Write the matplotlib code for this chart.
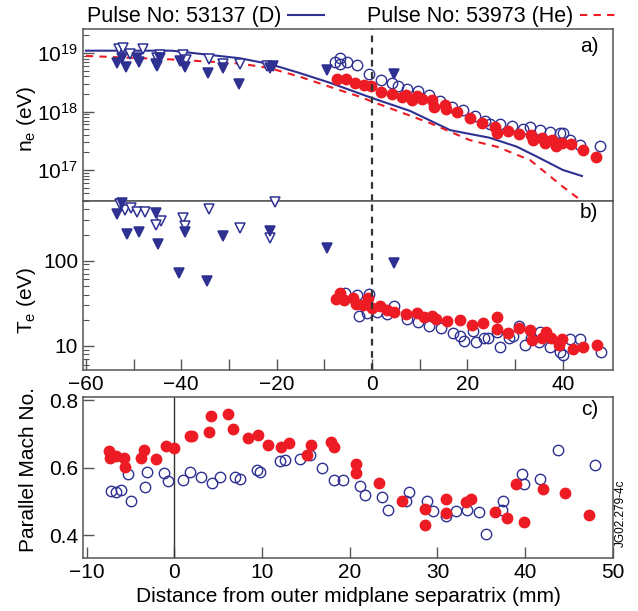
import matplotlib.pyplot as plt
from matplotlib.lines import Line2D

plt.rcParams['font.family'] = ['Liberation Sans', 'DejaVu Sans']
plt.rcParams['font.size'] = 15
plt.rcParams['mathtext.fontset'] = 'custom'
plt.rcParams['mathtext.rm'] = 'Liberation Sans'
plt.rcParams['mathtext.it'] = 'Liberation Sans:italic'

BLUE = '#2E3192'
RED = '#ED1C24'

# ---- panel a: density (m^-3) ----
ne_fit_d_x = [-60, -42, -27.7, -21.4, -15, -8.8, 0, 8, 16.4, 24.7, 30.3, 34.5, 40, 44]
ne_fit_d = [10.96e18, 10.96e18, 8.13e18, 6.46e18, 4.5e18, 3.09e18, 1.70e18, 1.02e18,
            0.479e18, 0.355e18, 0.251e18, 0.170e18, 0.100e18, 0.079e18]
ne_fit_he_x = [-60, -42, -27.7, -21.4, -15, -8.8, -2.5, 0, 12.2, 20.5, 26.1, 33.1, 36.6, 40.1, 43.6, 45.5]
ne_fit_he = [8.91e18, 7.76e18, 6.61e18, 5.50e18, 3.9e18, 2.63e18, 1.78e18, 1.48e18, 0.631e18,
             0.324e18, 0.251e18, 0.148e18, 0.087e18, 0.051e18, 0.031e18, 0.020e18]

ne_lp_open_x = [-53.0, -52.3, -50.7, -48.1, -44.4, -45.1, -39.7, -39.0, -34.1, -31.3, -27.7, -22.1]
ne_lp_open = [11.7e18, 12.3e18, 9.5e18, 11.5e18, 9.3e18, 8.1e18, 9.3e18, 7.6e18, 7.8e18,
              6.5e18, 6.6e18, 5.9e18]
ne_lp_fill_x = [-53.5, -51.6, -52.5, -49.3, -48.8, -45.3, -45.1, -44.4, -40.3, -39.2, -34.5,
                -31.2, -27.8, -21.4, -20.8, -9.5, 4.5]
ne_lp_fill = [6.8e18, 5.8e18, 8.1e18, 8.1e18, 7.1e18, 6.5e18, 5.9e18, 8.1e18, 7.2e18, 5.8e18,
              4.5e18, 5.5e18, 2.9e18, 5.6e18, 6.0e18, 5.1e18, 4.4e18]

ne_d_x = [-7.8, -6.7, -6.7, -5.3, -3.2, -0.6, 1.8, 4.1, 5.5, 7.4, 9.7, 12.0, 14.3, 16.7, 19.1,
          21.6, 23.7, 24.7, 26.8, 29.3, 31.7, 33.1, 35.2, 37.3, 39.4, 40.1, 41.5, 43.6, 47.8]
ne_d = [7.08, 8.13, 6.6, 7.08, 6.17, 4.37, 3.47, 3.02, 2.75, 2.40, 2.24, 1.91, 1.51, 1.20, 1.07,
        0.83, 0.68, 0.62, 0.62, 0.56, 0.51, 0.55, 0.48, 0.44, 0.43, 0.43, 0.32, 0.27, 0.26]
ne_he_x = [-7.3, -5.5, -3.6, -1.8, -0.3, 1.8, 4.1, 6.2, 7.1, 8.3, 9.4, 10.4, 12.5, 13.0, 15.3,
           15.5, 17.8, 20.5, 23.0, 25.8, 26.1, 28.4, 30.9, 33.3, 33.8, 35.6, 36.3, 37.7, 38.6,
           39.8, 41.7, 44.3, 47.0]
ne_he = [3.55, 3.55, 3.02, 2.82, 2.75, 2.19, 2.00, 1.78, 1.91, 1.58, 1.86, 1.62, 1.58, 1.20, 1.29,
         1.10, 1.00, 0.76, 0.63, 0.54, 0.43, 0.46, 0.41, 0.40, 0.32, 0.35, 0.29, 0.33, 0.26,
         0.29, 0.28, 0.22, 0.17]
ne_d = [v * 1e18 for v in ne_d]
ne_he = [v * 1e18 for v in ne_he]

# ---- panel b: temperature (eV) ----
te_lp_open_x = [-52.8, -51.8, -50.6, -49.2, -47.7, -44.3, -45.3, -39.7, -39.2, -34.1, -27.7, -21.5, -20.3]
te_lp_open = [457, 393, 418, 369, 369, 292, 262, 319, 257, 403, 240, 186, 491]
te_lp_fill_x = [-52.5, -53.5, -51.4, -48.8, -45.3, -44.9, -39.2, -31.2, -21.3, -40.4, -34.7, -9.5, 4.5]
te_lp_fill = [470, 350, 204, 218, 359, 156, 218, 196, 224, 71, 58, 140, 93]

te_d_x = [-5.7, -3.2, -2.8, -1.0, -0.6, 1.1, 3.2, 4.5, 7.4, 9.7, 12.0, 14.4, 16.9, 18.4, 19.3,
          21.1, 21.7, 23.5, 24.4, 26.1, 26.8, 28.6, 29.5, 30.9, 32.1, 33.3, 34.9, 35.2, 37.2,
          39.4, 40.0, 41.4, 43.5, 48.0]
te_d = [41.5, 39.6, 22.6, 24.1, 40.4, 24.8, 23.4, 29.4, 20.7, 18.8, 17.3, 16.4, 14.3, 12.9, 11.5,
        15.1, 11.2, 12.3, 12.3, 14.7, 9.8, 12.3, 13.1, 17.2, 10.1, 12.3, 11.0, 14.5, 9.8,
        8.5, 7.7, 12.1, 12.1, 8.4]
te_he_x = [-7.5, -6.8, -5.9, -3.9, -3.4, -1.9, -0.8, -0.1, 1.7, 3.1, 4.5, 7.1, 9.4, 10.8, 12.5,
           13.4, 15.7, 18.4, 20.9, 23.2, 26.1, 26.1, 28.4, 30.9, 33.1, 33.6, 35.6, 36.5, 37.5,
           39.1, 39.8, 42.1, 44.3, 47.1]
te_he = [35.3, 41.5, 34.6, 36.2, 31.0, 30.2, 36.2, 27.7, 29.4, 26.3, 25.2, 23.7, 24.5, 22.0, 22.4,
         20.5, 19.8, 20.2, 17.6, 18.4, 22.0, 15.8, 14.1, 16.1, 15.4, 11.8, 12.5, 14.7, 12.5,
         10.3, 12.1, 9.1, 9.8, 10.1]

# ---- panel c: parallel Mach number ----
mach_d_x = [-7.16, -6.67, -6.1, -5.27, -4.88, -3.28, -3.1, -1.16, -0.7, 1.0, 1.77, 3.02, 4.35,
            5.19, 6.9, 7.47, 9.44, 9.75, 12.0, 12.6, 14.3, 15.5, 16.8, 18.2, 19.25, 21.15, 21.7,
            23.7, 24.4, 26.4, 26.8, 28.76, 29.5, 31.0, 32.1, 33.4, 34.75, 35.5, 37.4, 37.5,
            39.6, 39.85, 41.7, 43.7, 48.0]
mach_d = [0.532, 0.529, 0.535, 0.583, 0.501, 0.543, 0.587, 0.585, 0.560, 0.563, 0.588, 0.572,
          0.555, 0.573, 0.573, 0.568, 0.593, 0.587, 0.619, 0.624, 0.626, 0.639, 0.600, 0.563,
          0.563, 0.545, 0.521, 0.513, 0.474, 0.501, 0.529, 0.501, 0.473, 0.458, 0.471, 0.474,
          0.468, 0.404, 0.474, 0.501, 0.582, 0.553, 0.567, 0.654, 0.609]
mach_he_x = [-7.43, -7.27, -6.6, -5.76, -5.56, -3.74, -3.44, -2.03, -0.97, -0.02, 1.85, 2.07,
             3.93, 4.24, 6.07, 6.7, 8.35, 9.56, 10.74, 12.2, 13.1, 15.1, 15.6, 17.85, 18.2,
             20.7, 20.7, 23.35, 25.9, 28.56, 28.56, 31.0, 31.0, 33.3, 33.8, 36.5, 37.9, 39.0,
             39.9, 42.05, 44.56, 47.26]
mach_he = [0.649, 0.629, 0.636, 0.629, 0.603, 0.629, 0.652, 0.626, 0.666, 0.659, 0.696, 0.696,
           0.705, 0.753, 0.760, 0.715, 0.690, 0.698, 0.667, 0.661, 0.674, 0.639, 0.669, 0.676,
           0.661, 0.612, 0.585, 0.555, 0.503, 0.478, 0.432, 0.508, 0.466, 0.498, 0.508, 0.469,
           0.452, 0.552, 0.440, 0.538, 0.526, 0.461]

fig = plt.figure(figsize=(6.38, 6.11), dpi=100)
ax_a = fig.add_axes([0.1301, 0.671, 0.8307, 0.2815])
ax_b = fig.add_axes([0.1301, 0.3944, 0.8307, 0.2766])
ax_c = fig.add_axes([0.1301, 0.0867, 0.8307, 0.2635])

spine_col = '#555555'
for ax in (ax_a, ax_b, ax_c):
    for s in ax.spines.values():
        s.set_color(spine_col)
        s.set_linewidth(1.1)
    ax.tick_params(which='major', direction='in', length=8, width=1, color=spine_col,
                   right=False, top=False, labelsize=15)
    ax.tick_params(which='minor', direction='in', length=4, width=0.8, color=spine_col,
                   right=False, top=False)

tri = dict(ms=7.5, mew=1.1, ls='none')
circ = dict(ms=7.5, mew=1.0, ls='none')

# panel a
ax_a.plot(ne_fit_d_x, ne_fit_d, color=BLUE, lw=1.5)
ax_a.plot(ne_fit_he_x, ne_fit_he, color=RED, lw=1.5, ls=(0, (3.5, 3)))
ax_a.plot(ne_lp_open_x, ne_lp_open, 'v', mfc='white', mec=BLUE, **tri)
ax_a.plot(ne_lp_fill_x, ne_lp_fill, 'v', mfc=BLUE, mec=BLUE, **tri)
ax_a.plot(ne_d_x, ne_d, 'o', mfc='none', mec=BLUE, **circ)
ax_a.plot(ne_he_x, ne_he, 'o', mfc=RED, mec=RED, **circ)
ax_a.set_yscale('log')
ax_a.set_xlim(-60.6, 50.5)
ax_a.set_ylim(2.95e16, 2.57e19)
ax_a.set_yticks([1e17, 1e18, 1e19])
ax_a.tick_params(axis='x', which='both', bottom=False, labelbottom=False)
ax_a.axvline(0, color='#333333', lw=1.6, ls=(0, (3, 2.5)))
ax_a.set_ylabel('n$_\\mathregular{e}$ (eV)')
ax_a.yaxis.set_label_coords(-0.085, 0.48)
ax_a.text(0.972, 0.9, 'a)', transform=ax_a.transAxes, ha='right', va='center')

# panel b
ax_b.plot(te_lp_open_x, te_lp_open, 'v', mfc='white', mec=BLUE, clip_on=False, zorder=3, **tri)
ax_b.plot(te_lp_fill_x, te_lp_fill, 'v', mfc=BLUE, mec=BLUE, clip_on=False, zorder=3, **tri)
ax_b.plot(te_d_x, te_d, 'o', mfc='none', mec=BLUE, **circ)
ax_b.plot(te_he_x, te_he, 'o', mfc=RED, mec=RED, **circ)
ax_b.set_yscale('log')
ax_b.set_xlim(-60.6, 50.5)
ax_b.set_ylim(5.2, 500)
ax_b.set_yticks([10, 100])
ax_b.set_yticklabels(['10', '100'])
ax_b.yaxis.set_minor_formatter(plt.NullFormatter())
ax_b.set_xticks(range(-60, 50, 10))
ax_b.set_xticklabels([str(v).replace('-', '\u2212') if v % 20 == 0 else '' for v in range(-60, 50, 10)])
ax_b.axvline(0, color='#333333', lw=1.6, ls=(0, (3, 2.5)))
ax_b.set_ylabel('T$_\\mathregular{e}$ (eV)')
ax_b.yaxis.set_label_coords(-0.085, 0.41)
ax_b.text(0.972, 0.93, 'b)', transform=ax_b.transAxes, ha='right', va='center')

# panel c
ax_c.axvline(0, color='#333333', lw=1.0)
ax_c.plot(mach_d_x, mach_d, 'o', mfc='none', mec=BLUE, **circ)
ax_c.plot(mach_he_x, mach_he, 'o', mfc=RED, mec=RED, **circ)
ax_c.set_xlim(-10.4, 50)
ax_c.set_ylim(0.333, 0.81)
ax_c.set_yticks([0.4, 0.6, 0.8])
ax_c.set_xticks(range(-10, 51, 10))
ax_c.set_ylabel('Parallel Mach No.')
ax_c.yaxis.set_label_coords(-0.085, 0.55)
ax_c.set_xlabel('Distance from outer midplane separatrix (mm)')
ax_c.text(0.972, 0.92, 'c)', transform=ax_c.transAxes, ha='right', va='center')

fig.text(0.973, 0.16, 'JG02.279-4c', rotation=90, fontsize=8.5, ha='center', va='center')

handles = [Line2D([], [], color=BLUE, lw=1.5), Line2D([], [], color=RED, lw=1.5, ls=(0, (3.5, 3)))]
fig.legend(handles, ['Pulse No: 53137 (D)', 'Pulse No: 53973 (He)'], loc='upper left',
           bbox_to_anchor=(0.126, 1.0), ncol=2, frameon=False, markerfirst=False,
           fontsize=15.5, handlelength=1.7, handletextpad=0.3, columnspacing=2.0,
           borderaxespad=0.2, borderpad=0.1)

fig.savefig('out.png', dpi=100)
